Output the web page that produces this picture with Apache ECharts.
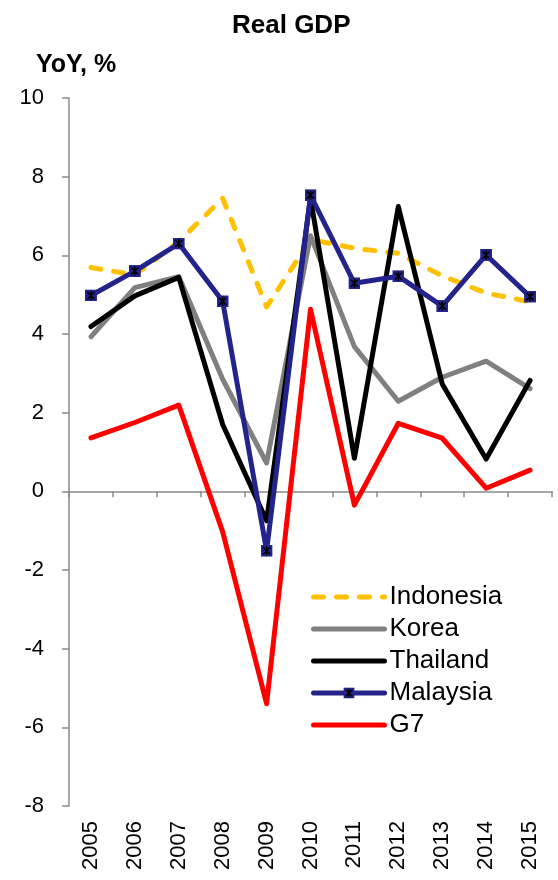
<!DOCTYPE html>
<html>
<head>
<meta charset="utf-8">
<style>
  html, body { margin: 0; padding: 0; background: #fff; }
  #chart { width: 558px; height: 880px; }
</style>
<script src="https://cdn.jsdelivr.net/npm/echarts@6/dist/echarts.min.js"></script>
</head>
<body>
<div id="chart"></div>
<script>
// Real GDP growth, year on year, %
const years = ['2005', '2006', '2007', '2008', '2009', '2010', '2011', '2012', '2013', '2014', '2015'];
const indonesia = [5.69, 5.50, 6.35, 7.45, 4.69, 6.40, 6.18, 6.05, 5.48, 5.04, 4.82];
const korea     = [3.93, 5.18, 5.46, 2.85, 0.72, 6.50, 3.68, 2.29, 2.90, 3.31, 2.61];
const thailand  = [4.19, 4.97, 5.44, 1.70, -0.75, 7.45, 0.84, 7.24, 2.73, 0.82, 2.82];
const malaysia  = [4.98, 5.60, 6.30, 4.83, -1.51, 7.53, 5.29, 5.47, 4.71, 6.01, 4.95];
const g7        = [1.36, 1.75, 2.19, -1.03, -5.40, 4.63, -0.35, 1.73, 1.35, 0.08, 0.54];
const yTicks = { min: -8, max: 10, step: 2 };

const FONT = "'Liberation Sans', Arial, sans-serif";
const AXIS_GREY = '#8a8a8a';

// Square marker with a black asterisk on top
const markerSvg =
  "<svg xmlns='http://www.w3.org/2000/svg' width='24' height='24' viewBox='0 0 24 24'>" +
  "<rect x='0' y='0' width='24' height='24' fill='#23238c'/>" +
  "<path d='M5 5L19 19M19 5L5 19M12 3V21' stroke='#000' stroke-width='3'/></svg>";
const markerSymbol = 'image://data:image/svg+xml;charset=utf-8,' + encodeURIComponent(markerSvg);

function lineSeries(name, data, color, extra) {
  return Object.assign({
    name: name,
    type: 'line',
    data: data,
    symbol: 'none',
    showSymbol: false,
    lineStyle: { color: color, width: 5, join: 'round', cap: 'round' },
    itemStyle: { color: color },
    z: 2
  }, extra || {});
}

// Legend entries: plain lines hide the default dot, the marker series keeps its symbol
function legendLine(name) {
  return { name: name, itemStyle: { opacity: 0 }, lineStyle: { width: 5 } };
}

const chart = echarts.init(document.getElementById('chart'), null, { renderer: 'canvas' });
chart.setOption({
  animation: false,
  backgroundColor: '#ffffff',
  textStyle: { fontFamily: FONT },
  title: [
    {
      text: 'Real GDP',
      left: 227, top: 8,
      textStyle: { fontFamily: FONT, fontSize: 26, fontWeight: 'bold', color: '#000' }
    },
    {
      text: 'YoY, %',
      left: 31, top: 48,
      textStyle: { fontFamily: FONT, fontSize: 25, fontWeight: 'bold', color: '#000' }
    }
  ],
  grid: { left: 69, right: 6, top: 98, bottom: 74, containLabel: false },
  legend: {
    orient: 'vertical',
    left: 311, top: 582,
    padding: 0,
    itemWidth: 71, itemHeight: 14, itemGap: 2,
    textStyle: { fontFamily: FONT, fontSize: 26, color: '#000', lineHeight: 30 },
    data: [
      legendLine('Indonesia'),
      legendLine('Korea'),
      legendLine('Thailand'),
      { name: 'Malaysia', lineStyle: { width: 5 } },
      legendLine('G7')
    ]
  },
  xAxis: [
    {
      type: 'category',
      data: years,
      position: 'bottom',
      boundaryGap: true,
      axisLine: { show: false, onZero: false },
      axisTick: { show: false },
      axisLabel: { rotate: 90, fontSize: 22, color: '#000', margin: 15, fontFamily: FONT },
      splitLine: { show: false }
    },
    {
      type: 'category',
      data: years,
      position: 'bottom',
      boundaryGap: true,
      axisLine: { show: true, onZero: true, lineStyle: { color: AXIS_GREY, width: 1.5 } },
      axisTick: { show: true, length: 6, lineStyle: { color: AXIS_GREY, width: 1.5 } },
      axisLabel: { show: false },
      splitLine: { show: false }
    }
  ],
  yAxis: {
    type: 'value',
    min: yTicks.min, max: yTicks.max, interval: yTicks.step,
    axisLine: { show: true, onZero: false, lineStyle: { color: AXIS_GREY, width: 1.5 } },
    axisTick: { show: true, length: 7, lineStyle: { color: AXIS_GREY, width: 1.5 } },
    axisLabel: { fontSize: 22, color: '#000', margin: 25, fontFamily: FONT },
    splitLine: { show: false }
  },
  series: [
    lineSeries('Indonesia', indonesia, '#ffc000', {
      lineStyle: { color: '#ffc000', width: 5, type: [10, 13], cap: 'round', join: 'round' }
    }),
    lineSeries('Korea', korea, '#808080'),
    lineSeries('Thailand', thailand, '#000000'),
    lineSeries('Malaysia', malaysia, '#23238c', {
      symbol: markerSymbol,
      showSymbol: true,
      symbolSize: 12,
      z: 3
    }),
    lineSeries('G7', g7, '#ff0000', { z: 4 })
  ]
});
</script>
</body>
</html>
